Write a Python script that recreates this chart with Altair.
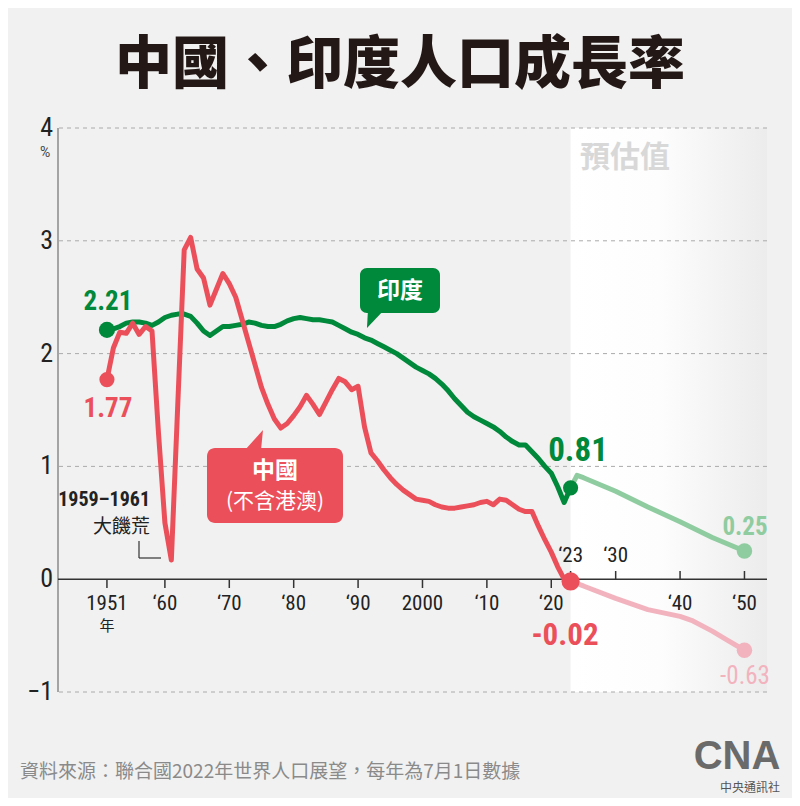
import altair as alt
import pandas as pd

# ---------------- data ----------------
YEARS = list(range(1951, 2024))
CHINA = [1.77, 2.05, 2.19, 2.18, 2.27, 2.17, 2.24, 2.20, 1.30, 0.50,
         0.17, 1.55, 2.92, 3.03, 2.75, 2.67, 2.43, 2.57, 2.71, 2.62,
         2.50, 2.30, 2.10, 1.90, 1.70, 1.55, 1.42, 1.34, 1.38, 1.45,
         1.53, 1.63, 1.55, 1.46, 1.57, 1.68, 1.78, 1.75, 1.68, 1.71,
         1.35, 1.12, 1.05, 0.97, 0.90, 0.84, 0.79, 0.75, 0.71, 0.70,
         0.69, 0.66, 0.64, 0.63, 0.63, 0.64, 0.65, 0.66, 0.68, 0.69,
         0.66, 0.71, 0.70, 0.66, 0.62, 0.60, 0.60, 0.47, 0.35, 0.24,
         0.11, 0.00, -0.02]
INDIA = [2.21, 2.22, 2.24, 2.27, 2.28, 2.28, 2.27, 2.25, 2.28, 2.32,
         2.34, 2.35, 2.35, 2.33, 2.27, 2.20, 2.16, 2.20, 2.24, 2.24,
         2.25, 2.26, 2.28, 2.27, 2.25, 2.24, 2.24, 2.26, 2.29, 2.31,
         2.32, 2.31, 2.30, 2.30, 2.29, 2.28, 2.25, 2.22, 2.19, 2.17,
         2.14, 2.12, 2.09, 2.06, 2.03, 2.00, 1.96, 1.92, 1.88, 1.85,
         1.82, 1.78, 1.73, 1.67, 1.60, 1.54, 1.48, 1.44, 1.41, 1.38,
         1.35, 1.31, 1.26, 1.22, 1.19, 1.19, 1.13, 1.07, 1.00, 0.94,
         0.82, 0.68, 0.81]
CHINA_PROJ_YEARS = [2023, 2024, 2025, 2030, 2035, 2040, 2042, 2045, 2047, 2050]
CHINA_PROJ = [-0.02, -0.04, -0.06, -0.17, -0.27, -0.33, -0.37, -0.46, -0.53, -0.63]
INDIA_PROJ_YEARS = [2023, 2024, 2025, 2030, 2035, 2040, 2045, 2050]
INDIA_PROJ = [0.81, 0.92, 0.90, 0.78, 0.64, 0.51, 0.37, 0.25]

GRID_VALUES = [-1, 1, 2, 3, 4]
Y_TICKS = [-1, 0, 1, 2, 3, 4]
Y_TICK_TEXT = ["−1", "0", "1", "2", "3", "4"]
TICKS_DOWN = [1951, 1960, 1970, 1980, 1990, 2000, 2010, 2020]
TICKS_UP = [2023, 2030, 2040, 2050]
LABELS_LOW_YEARS = [1951, 1960, 1970, 1980, 1990, 2000, 2010, 2020, 2040, 2050]
LABELS_LOW_TEXT = ["1951", "‘60", "‘70", "‘80", "‘90", "2000", "‘10", "‘20", "‘40", "‘50"]
LABELS_HIGH_YEARS = [2023, 2030]
LABELS_HIGH_TEXT = ["‘23", "‘30"]

PROJ_START = 2023
X_MIN, X_MAX = 1943.4, 2053.5
Y_MIN, Y_MAX = -1, 4

# ---------------- style ----------------
GREEN = "#00883b"
RED = "#eb505a"
LGREEN = "#8fcca0"
PINK = "#f2b3be"
BG = "#f1f1f1"
CJK = "Noto Sans CJK TC"
NUM = "'Liberation Sans Narrow', 'Roboto Condensed', Roboto, sans-serif"

W, H = 709, 564
OX, OY = 58, 128  # plot origin on page

xs = alt.Scale(domain=[X_MIN, X_MAX], nice=False, zero=False)
ys = alt.Scale(domain=[Y_MIN, Y_MAX], nice=False, zero=False)

hist = pd.DataFrame({"year": YEARS, "China": CHINA, "India": INDIA})
cproj = pd.DataFrame({"year": CHINA_PROJ_YEARS, "v": CHINA_PROJ})
iproj = pd.DataFrame({"year": INDIA_PROJ_YEARS, "v": INDIA_PROJ})
one = pd.DataFrame({"a": [0]})


def X(field):
    return alt.X(field, type="quantitative", scale=xs, axis=None)


def Y(field):
    return alt.Y(field, type="quantitative", scale=ys, axis=None)


def text(t, x, y, size, color, weight="normal", align="center", font=CJK):
    return alt.Chart(one).mark_text(
        text=t, font=font, fontSize=size, fontWeight=weight, color=color,
        align=align, baseline="middle"
    ).encode(x=alt.value(x - OX), y=alt.value(y - OY))


# projection background (white fading to grey)
bg = alt.Chart(one).mark_rect(
    fill={"gradient": "linear", "x1": 0, "x2": 1, "y1": 0, "y2": 0,
          "stops": [{"offset": 0, "color": "#ffffff"},
                    {"offset": 0.45, "color": "#fdfdfd"},
                    {"offset": 1, "color": "#ececec"}]}
).encode(
    x=alt.XDatum(PROJ_START, scale=xs, axis=None),
    x2=alt.X2Datum(X_MAX),
    y=alt.YDatum(Y_MAX, scale=ys, axis=None),
    y2=alt.Y2Datum(Y_MIN),
)

grid = alt.Chart(pd.DataFrame({"g": GRID_VALUES})).mark_rule(
    color="#aaaaaa", strokeDash=[4, 4], strokeWidth=1
).encode(y=Y("g"))

# y axis (drawn by hand through the y scale)
ydomain = alt.Chart(one).mark_rule(color="#8a8a8a", strokeWidth=1.5).encode(
    x=alt.value(0),
    y=alt.YDatum(Y_MAX, scale=ys, axis=None),
    y2=alt.Y2Datum(Y_MIN))
ylabels = alt.Chart(pd.DataFrame({"v": Y_TICKS, "s": Y_TICK_TEXT})).mark_text(
    font=NUM, fontSize=26, color="#222", align="right", baseline="middle").encode(
    x=alt.value(53 - OX), y=Y("v"), text="s:N")

proj_label = text("預估值", 580, 158, 30, "#d8d8d8", weight="bold", align="left")

xaxis = alt.Chart(one).mark_rule(color="#333", strokeWidth=1.5).encode(
    y=alt.YDatum(0, scale=ys, axis=None),
    x=alt.value(0), x2=alt.value(W))

ticks_down = alt.Chart(pd.DataFrame({"t": TICKS_DOWN})).mark_rule(
    color="#333", strokeWidth=1.5).encode(
    x=X("t"), y=alt.value(580 - OY), y2=alt.value(588 - OY))
ticks_up = alt.Chart(pd.DataFrame({"t": TICKS_UP})).mark_rule(
    color="#333", strokeWidth=1.5).encode(
    x=X("t"), y=alt.value(571 - OY), y2=alt.value(580 - OY))

lab_low = alt.Chart(pd.DataFrame({"t": LABELS_LOW_YEARS, "s": LABELS_LOW_TEXT})).mark_text(
    font=NUM, fontSize=21, color="#222", baseline="middle").encode(
    x=X("t"), y=alt.value(604 - OY), text="s:N")
lab_high = alt.Chart(pd.DataFrame({"t": LABELS_HIGH_YEARS, "s": LABELS_HIGH_TEXT})).mark_text(
    font=NUM, fontSize=21, color="#222", baseline="middle").encode(
    x=X("t"), y=alt.value(556 - OY), text="s:N")
nian = text("年", 107, 626, 15, "#222")

line_kw = dict(strokeWidth=5, strokeJoin="round", strokeCap="round")
china_line = alt.Chart(hist).mark_line(color=RED, **line_kw).encode(x=X("year"), y=Y("China"))
india_line = alt.Chart(hist).mark_line(color=GREEN, **line_kw).encode(x=X("year"), y=Y("India"))
china_p = alt.Chart(cproj).mark_line(color=PINK, **line_kw).encode(x=X("year"), y=Y("v"))
india_p = alt.Chart(iproj).mark_line(color=LGREEN, **line_kw).encode(x=X("year"), y=Y("v"))


def dot(df, field, row, color, size):
    return alt.Chart(df.iloc[[row]]).mark_circle(color=color, opacity=1, size=size).encode(
        x=X("year"), y=Y(field))


dots = [
    dot(hist, "India", 0, GREEN, 260),
    dot(hist, "China", 0, RED, 230),
    dot(hist, "India", len(YEARS) - 1, GREEN, 230),
    dot(hist, "China", len(YEARS) - 1, RED, 330),
    dot(iproj, "v", len(INDIA_PROJ) - 1, LGREEN, 240),
    dot(cproj, "v", len(CHINA_PROJ) - 1, PINK, 240),
]

vlabels = [
    text(f"{INDIA[0]:.2f}", 108, 302, 27, GREEN, "bold", font=NUM),
    text(f"{CHINA[0]:.2f}", 108, 409, 27, RED, "bold", font=NUM),
    text(f"{INDIA[-1]:.2f}", 578, 451, 33, GREEN, "bold", font=NUM),
    text(f"{CHINA[-1]:.2f}", 565, 636, 31, RED, "bold", font=NUM),
    text(f"{INDIA_PROJ[-1]:.2f}", 745, 527, 25, LGREEN, "bold", font=NUM),
    text(f"{CHINA_PROJ[-1]:.2f}", 745, 676, 25, PINK, "normal", font=NUM),
]

# callouts
india_box = alt.Chart(one).mark_rect(color=GREEN, cornerRadius=7).encode(
    x=alt.value(360 - OX), x2=alt.value(440 - OX), y=alt.value(268 - OY), y2=alt.value(313 - OY))
india_tail = alt.Chart(one).mark_point(
    shape="M -0.84 -1 L 0.95 -1 L -0.95 1 Z", filled=True, color=GREEN, opacity=1, size=361
).encode(x=alt.value(376 - OX), y=alt.value(318.5 - OY))
india_txt = text("印度", 400, 291, 23, "white", "bold")

china_box = alt.Chart(one).mark_rect(color=RED, cornerRadius=8).encode(
    x=alt.value(207 - OX), x2=alt.value(343 - OX), y=alt.value(448 - OY), y2=alt.value(523 - OY))
china_tail = alt.Chart(one).mark_point(
    shape="M -0.9 1 L 0.7 1 L 0.9 -1 Z", filled=True, color=RED, opacity=1, size=400
).encode(x=alt.value(254 - OX), y=alt.value(440 - OY))
china_txt1 = text("中國", 275, 471, 23, "white", "bold")
china_txt2 = text("(不含港澳)", 275, 502, 21, "white", "normal")

famine1 = text("1959–1961", 150, 500, 20, "#222", "bold", align="right", font=NUM)
famine2 = text("大饑荒", 150, 527, 19, "#222", "normal", align="right")
br_v = alt.Chart(one).mark_rule(color="#333", strokeWidth=1.2).encode(
    x=alt.value(139 - OX), y=alt.value(541 - OY), y2=alt.value(558 - OY))
br_h = alt.Chart(one).mark_rule(color="#333", strokeWidth=1.2).encode(
    x=alt.value(139 - OX), x2=alt.value(161 - OX), y=alt.value(558 - OY))

pct = text("%", 45, 153, 14, "#444", font="Roboto")
title = text("中國、印度人口成長率", 400, 66, 57, "#231815", 900)
foot = text("資料來源：聯合國2022年世界人口展望，每年為7月1日數據", 20, 772, 19, "#8a8a8a", align="left")
logo = text("CNA", 737, 757, 40, "#6a6a6a", 900, font="'Liberation Sans', Arial, sans-serif")
logo2 = text("中央通訊社", 750, 788, 12, "#555")

chart = alt.layer(
    bg, grid, ydomain, ylabels, proj_label, xaxis, ticks_down, ticks_up, lab_low, lab_high, nian,
    india_box, india_tail, china_box, china_tail,
    china_p, india_p, india_line, china_line,
    *dots, *vlabels,
    india_txt, china_txt1, china_txt2, famine1, famine2, br_v, br_h,
    pct, title, foot, logo, logo2,
).properties(
    width=W, height=H,
    autosize=alt.AutoSizeParams(type="none"),
    padding={"left": OX - 8, "top": OY - 8, "right": 800 - 8 - OX - W, "bottom": 806 - 8 - OY - H},
    background=BG,
).configure_view(strokeWidth=0)

chart.save("out.html", embed_options={"renderer": "svg", "actions": False})
